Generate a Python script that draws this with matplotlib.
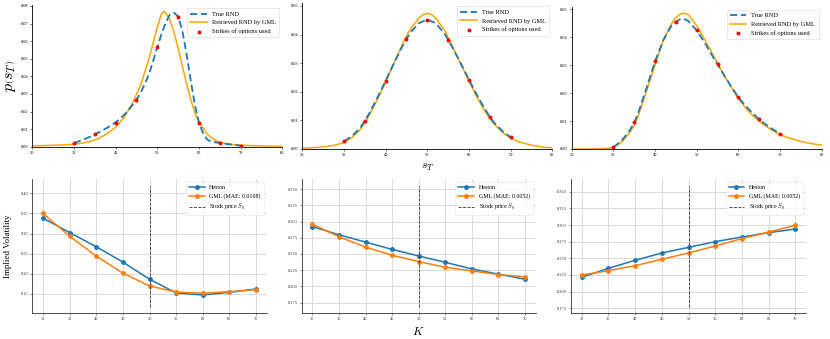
import matplotlib
matplotlib.use("Agg")
import matplotlib.pyplot as plt
import numpy as np

W, H = 830, 339
plt.rcParams['font.family'] = ['Liberation Serif', 'DejaVu Serif']
plt.rcParams['mathtext.fontset'] = 'cm'

# ---------------- data: top row (densities) ----------------
strikes = [30, 35, 40, 45, 50, 55, 60, 65, 70]

# panel 1
true_x1 = [30, 32, 34, 35, 36, 38, 40, 42, 44, 45, 46, 48, 50, 51, 52, 53, 54, 55, 56, 57, 58, 59, 60, 61, 62, 63, 65, 67, 70]
true_y1 = [0.0020, 0.0038, 0.0058, 0.0070, 0.0082, 0.0108, 0.0138, 0.0180, 0.0235, 0.0268, 0.0305, 0.0410, 0.0565,
           0.0640, 0.0705, 0.0750, 0.0762, 0.0740, 0.0660, 0.0530, 0.0380, 0.0240, 0.0137, 0.0075, 0.0040, 0.0028,
           0.0021, 0.0014, 0.0006]
gml_x1 = [20, 25, 28, 30, 32, 34, 36, 38, 40, 42, 44, 46, 48, 49, 50, 51, 51.5, 52, 53, 54, 55, 56, 57, 58, 59, 60,
          62, 64, 66, 68, 70, 75, 80]
gml_y1 = [0.0005, 0.0008, 0.0011, 0.0014, 0.0020, 0.0030, 0.0048, 0.0075, 0.0110, 0.0165, 0.0245, 0.0350, 0.0500,
          0.0590, 0.0680, 0.0755, 0.0768, 0.0762, 0.0720, 0.0650, 0.0560, 0.0460, 0.0360, 0.0270, 0.0195, 0.0140,
          0.0070, 0.0035, 0.0020, 0.0013, 0.0009, 0.0004, 0.0002]
dots_y1 = [0.0021, 0.0070, 0.0137, 0.0268, 0.0565, 0.0740, 0.0137, 0.0021, 0.0006]

# panel 2
true_x2 = [30, 32, 34, 35, 36, 38, 40, 42, 44, 45, 46, 48, 50, 52, 54, 55, 56, 58, 60, 62, 64, 65, 66, 68, 70]
true_y2 = [0.0026, 0.0045, 0.0075, 0.0098, 0.0122, 0.0178, 0.0238, 0.0300, 0.0358, 0.0384, 0.0408, 0.0440, 0.0452,
           0.0440, 0.0405, 0.0382, 0.0355, 0.0300, 0.0242, 0.0185, 0.0135, 0.0112, 0.0092, 0.0062, 0.0040]
gml_x2 = [20, 22, 25, 28, 30, 32, 34, 35, 36, 38, 40, 42, 44, 45, 46, 48, 49, 50, 51, 52, 54, 55, 56, 58, 60, 62,
          64, 65, 66, 68, 70, 72, 75, 78, 80]
gml_y2 = [0.0002, 0.0003, 0.0006, 0.0013, 0.0021, 0.0040, 0.0068, 0.0090, 0.0115, 0.0172, 0.0232, 0.0300, 0.0365,
          0.0395, 0.0420, 0.0458, 0.0470, 0.0474, 0.0470, 0.0458, 0.0418, 0.0390, 0.0360, 0.0298, 0.0236, 0.0178,
          0.0128, 0.0106, 0.0087, 0.0058, 0.0037, 0.0024, 0.0012, 0.0005, 0.0003]
dots_y2 = [0.0026, 0.0098, 0.0237, 0.0384, 0.0450, 0.0382, 0.0242, 0.0112, 0.0040]

# panel 3
true_x3 = [30, 32, 34, 35, 36, 38, 40, 42, 44, 45, 46, 47, 48, 50, 52, 54, 55, 56, 58, 60, 62, 64, 65, 66, 68, 70]
true_y3 = [0.0006, 0.0030, 0.0068, 0.0095, 0.0130, 0.0220, 0.0314, 0.0390, 0.0443, 0.0456, 0.0464, 0.0465, 0.0458,
           0.0425, 0.0378, 0.0327, 0.0303, 0.0278, 0.0230, 0.0185, 0.0150, 0.0120, 0.0106, 0.0094, 0.0073, 0.0055]
gml_x3 = [20, 25, 28, 30, 32, 34, 35, 36, 38, 40, 42, 44, 45, 46, 47, 48, 50, 52, 54, 55, 56, 58, 60, 62, 64, 65,
          66, 68, 70, 72, 75, 78, 80]
gml_y3 = [0.0000, 0.0000, 0.0002, 0.0005, 0.0025, 0.0060, 0.0086, 0.0120, 0.0210, 0.0301, 0.0390, 0.0450, 0.0470,
          0.0483, 0.0486, 0.0480, 0.0442, 0.0390, 0.0335, 0.0307, 0.0280, 0.0228, 0.0180, 0.0142, 0.0112, 0.0099,
          0.0088, 0.0068, 0.0051, 0.0040, 0.0027, 0.0018, 0.0014]
dots_y3 = [0.0006, 0.0095, 0.0314, 0.0456, 0.0425, 0.0303, 0.0185, 0.0106, 0.0055]

# ---------------- data: bottom row (implied vols) ----------------
K = [30, 35, 40, 45, 50, 55, 60, 65, 70]
heston_1 = [0.3384, 0.3025, 0.2674, 0.2293, 0.1867, 0.1525, 0.1475, 0.1540, 0.1624]
gml_iv_1 = [0.3500, 0.2934, 0.2442, 0.2017, 0.1699, 0.1550, 0.1517, 0.1558, 0.1608]
heston_2 = [0.2923, 0.2796, 0.2684, 0.2571, 0.2469, 0.2372, 0.2270, 0.2189, 0.2112]
gml_iv_2 = [0.2959, 0.2765, 0.2607, 0.2480, 0.2383, 0.2296, 0.2240, 0.2184, 0.2148]
heston_3 = [0.2215, 0.2350, 0.2470, 0.2580, 0.2665, 0.2750, 0.2820, 0.2885, 0.2940]
gml_iv_3 = [0.2250, 0.2315, 0.2390, 0.2485, 0.2580, 0.2685, 0.2795, 0.2895, 0.2995]
mae_labels = ["GML (MAE: 0.0108)", "GML (MAE: 0.0052)", "GML (MAE: 0.0052)"]
S0 = 50

fig = plt.figure(figsize=(8.3, 3.39), dpi=100)


def add_ax(x0, x1, ytop, ybot):
    return fig.add_axes([x0 / W, 1 - ybot / H, (x1 - x0) / W, (ybot - ytop) / H])


top_specs = [
    ((32.3, 282.3, 4.9, 146.7), (0, 0.0806), np.arange(0, 0.081, 0.01), true_x1, true_y1, gml_x1, gml_y1, dots_y1),
    ((302.3, 552.3, 3.1, 148.7), (0, 0.051), np.arange(0, 0.051, 0.01), true_x2, true_y2, gml_x2, gml_y2, dots_y2),
    ((571.7, 821.7, 6.5, 149.0), (0, 0.051), np.arange(0, 0.051, 0.01), true_x3, true_y3, gml_x3, gml_y3, dots_y3),
]

for i, (pos, ylim, yt, tx, ty, gx, gy, dy) in enumerate(top_specs):
    ax = add_ax(*pos)
    ax.plot(tx, ty, color='#1f77b4', ls='--', lw=1.3, dashes=(4, 2), label='True RND', zorder=3)
    ax.plot(gx, gy, color='orange', lw=1.1, label='Retrieved RND by GML', zorder=2)
    ax.scatter(strikes, dy, color='red', s=8, zorder=4, label='Strikes of options used', linewidths=0)
    ax.set_xlim(20, 80)
    ax.set_ylim(*ylim)
    ax.set_xticks(range(20, 81, 10))
    ax.set_yticks(yt)
    ax.set_yticklabels([f"{v:.2f}" for v in yt])
    ax.tick_params(labelsize=3.2, length=1.5, width=0.4, pad=1.5)
    for s in ['top', 'right']:
        ax.spines[s].set_visible(False)
    for s in ['left', 'bottom']:
        ax.spines[s].set_linewidth(0.6)
    leg = ax.legend(loc='upper right', fontsize=4.6, frameon=True, handlelength=2.6,
                    borderpad=0.5, labelspacing=0.5, fancybox=False)
    leg.get_frame().set_linewidth(0.4)
    leg.get_frame().set_edgecolor('#cccccc')
    if i == 0:
        ax.set_ylabel(r'$p\left(s_T\right)$', fontsize=11.5, labelpad=2)
    if i == 1:
        ax.set_xlabel(r'$s_T$', fontsize=8.5, labelpad=3)

bot_specs = [
    ((32.3, 266.7, 179.3, 313.3), (0.102, 0.4348), np.arange(0.15, 0.401, 0.05), "%.2f", heston_1, gml_iv_1),
    ((301.7, 535.7, 179.3, 313.3), (0.1587, 0.365), np.arange(0.175, 0.351, 0.025), "%.3f", heston_2, gml_iv_2),
    ((571.0, 806.0, 179.3, 313.3), (0.1675, 0.3686), np.arange(0.175, 0.351, 0.025), "%.3f", heston_3, gml_iv_3),
]

for i, (pos, ylim, yt, fmt, hv, gv) in enumerate(bot_specs):
    ax = add_ax(*pos)
    ax.grid(True, color='#d4d4d4', lw=0.6)
    ax.set_axisbelow(True)
    ax.plot(K, hv, color='#1f77b4', marker='o', ms=2.5, lw=1.1, label='Heston')
    ax.plot(K, gv, color='#ff7f0e', marker='o', ms=2.5, lw=1.1, label=mae_labels[i])
    ax.axvline(S0, ymin=0.05, ymax=0.95, color='#333333', ls='--', lw=0.6, label=r'Stock price $S_0$')
    ax.set_xlim(28, 72)
    ax.set_ylim(*ylim)
    ax.set_xticks(K)
    ax.set_yticks(yt)
    ax.set_yticklabels([fmt % v for v in yt])
    ax.tick_params(labelsize=3.2, length=1.5, width=0.4, pad=1.5, colors='#333333')
    for s in ['top', 'right']:
        ax.spines[s].set_visible(False)
    for s in ['left', 'bottom']:
        ax.spines[s].set_linewidth(0.6)
        ax.spines[s].set_color('#333333')
    leg = ax.legend(loc='upper right', fontsize=4.3, frameon=True, handlelength=2.6,
                    borderpad=0.5, labelspacing=0.5, fancybox=True)
    leg.get_frame().set_linewidth(0.4)
    leg.get_frame().set_edgecolor('#dddddd')
    if i == 0:
        ax.set_ylabel('Implied Volatility', fontsize=6.5, labelpad=6)
    if i == 1:
        ax.set_xlabel(r'$K$', fontsize=8.5, labelpad=3)

fig.savefig('out.png', dpi=100)
